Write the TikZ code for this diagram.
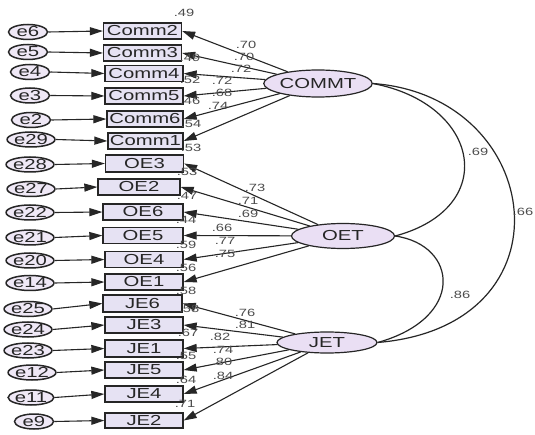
\documentclass[tikz,border=0pt]{standalone}
\usepackage{fontspec}
\newfontfamily\wfont{Liberation Sans}[FakeStretch=1.4]
\usetikzlibrary{arrows.meta,shapes.geometric}
\definecolor{boxfill}{HTML}{E6E2F3}
\definecolor{errfill}{HTML}{EFE8F6}
\definecolor{latfill}{HTML}{EADFF4}
\definecolor{ink}{HTML}{262626}
\begin{document}
\begin{tikzpicture}[x=1pt,y=-1pt,
  obs/.style={draw=ink, fill=boxfill, line width=1.3pt, minimum width=78pt, minimum height=16pt, inner sep=0pt, font=\wfont\fontsize{14.5}{14.5}\selectfont, text=ink},
  err/.style={ellipse, draw=ink, fill=errfill, line width=1.5pt, minimum width=39pt, minimum height=15pt, inner sep=0pt, font=\wfont\fontsize{14.5}{14.5}\selectfont, text=ink},
  lat/.style={ellipse, draw=ink, fill=latfill, line width=1.2pt, inner sep=0pt, font=\wfont\fontsize{14.5}{14.5}\selectfont, text=ink},
  arr/.style={draw=ink, line width=1.1pt, -{Triangle[length=13pt,width=8pt]}},
  cov/.style={draw=ink, line width=1.2pt},
  lab/.style={font=\wfont\fontsize{10.5}{10.5}\selectfont, text=black!70, inner sep=0pt}]
\useasboundingbox (0,0) rectangle (535,435);
\fill[white] (0,0) rectangle (535,435);

% latent variables
\node[lat, minimum width=82pt, minimum height=27pt] (COMMT) at (318,83.5) {COMMT};
\node[lat, minimum width=103pt, minimum height=25pt] (OET) at (343,236) {OET};
\node[lat, minimum width=100pt, minimum height=21pt] (JET) at (327,342.5) {JET};

% observed boxes
\node[obs] (c2) at (142.5,31) {Comm2};
\node[obs] (c3) at (142.5,53) {Comm3};
\node[obs] (c4) at (144,73.5) {Comm4};
\node[obs] (c5) at (144,96) {Comm5};
\node[obs, minimum width=76pt] (c6) at (145,119) {Comm6};
\node[obs, minimum width=75pt] (c1) at (145.5,141) {Comm1};
\node[obs, minimum height=17pt] (o3) at (144.5,163.5) {OE3};
\node[obs, minimum width=82pt] (o2) at (139,187) {OE2};
\node[obs, minimum width=80pt] (o6) at (143,212) {OE6};
\node[obs, minimum width=80pt] (o5) at (143,235.5) {OE5};
\node[obs] (o4) at (144,259.5) {OE4};
\node[obs] (o1) at (144,282) {OE1};
\node[obs, minimum width=79pt, minimum height=17pt] (j6) at (142.5,303.5) {JE6};
\node[obs] (j3) at (144,325) {JE3};
\node[obs, minimum height=17pt] (j1) at (144,348.5) {JE1};
\node[obs] (j5) at (144,370) {JE5};
\node[obs] (j4) at (144,394) {JE4};
\node[obs, minimum height=15pt] (j2) at (144,420.5) {JE2};

% error terms
\node[err] (e6) at (28,32) {e6};
\node[err] (e5) at (28,52) {e5};
\node[err] (e4) at (30,72) {e4};
\node[err] (e3) at (30,95.5) {e3};
\node[err] (e2) at (31,120) {e2};
\node[err] (e29) at (31,139.5) {e29};
\node[err] (e28) at (30,164.5) {e28};
\node[err] (e27) at (31,189) {e27};
\node[err] (e22) at (30,212.5) {e22};
\node[err] (e21) at (30,237.5) {e21};
\node[err] (e20) at (30,260.5) {e20};
\node[err] (e14) at (30,283) {e14};
\node[err] (e25) at (28,309) {e25};
\node[err] (e24) at (28,329.5) {e24};
\node[err] (e23) at (28,350.5) {e23};
\node[err] (e12) at (32,372.5) {e12};
\node[err] (e11) at (31,397.5) {e11};
\node[err] (e9) at (34,421.5) {e9};

% error arrows
\foreach \e/\b in {e6/c2,e5/c3,e4/c4,e3/c5,e2/c6,e29/c1,e28/o3,e27/o2,e22/o6,e21/o5,e20/o4,e14/o1,e25/j6,e24/j3,e23/j1,e12/j5,e11/j4,e9/j2}
  \draw[arr] (\e.east) -- (\b.west);

% loadings
\foreach \b in {c2,c3,c4,c5,c6,c1} \draw[arr] (COMMT) -- (\b.east);
\foreach \b in {o3,o2,o6,o5,o4,o1} \draw[arr] (OET) -- (\b.east);
\foreach \b in {j6,j3,j1,j5,j4,j2} \draw[arr] (JET) -- (\b.east);

% covariances
\draw[cov] (COMMT.east) .. controls (481,104) and (500,208) .. (OET.east);
\draw[cov] (COMMT.east) .. controls (545,96) and (576,326) .. (JET.east);
\draw[cov] (OET.east) .. controls (458,245) and (466,318) .. (JET.east);

% loading labels
\node[lab] (l1) at (246,45) {.70};
\node[lab] (l2) at (244,57) {.70};
\node[lab] (l3) at (241,69) {.72};
\node[lab] (l4) at (222,81) {.72};
\node[lab] (l5) at (222,93) {.68};
\node[lab] (l6) at (218,106) {.74};
\node[lab] (l7) at (255,188) {.73};
\node[lab] (l8) at (248,201) {.71};
\node[lab] (l9) at (248,214) {.69};
\node[lab] (l10) at (222,228) {.66};
\node[lab] (l11) at (225,241) {.77};
\node[lab] (l12) at (225,254) {.75};
\node[lab] (l13) at (245,313) {.76};
\node[lab] (l14) at (245,325) {.81};
\node[lab] (l15) at (220,337) {.82};
\node[lab] (l16) at (223,350) {.74};
\node[lab] (l17) at (222,362) {.80};
\node[lab] (l18) at (223,376) {.84};

% squared multiple correlations
\node[lab] (r1) at (184,13) {.49};
\node[lab] (r2) at (190,58) {.49};
\node[lab] (r3) at (190,80) {.52};
\node[lab] (r4) at (190,101) {.46};
\node[lab] (r5) at (191,124) {.54};
\node[lab] (r6) at (191,148) {.53};
\node[lab] (r7) at (187,172) {.53};
\node[lab] (r8) at (187,196) {.47};
\node[lab] (r9) at (186,220) {.44};
\node[lab] (r10) at (186,245) {.59};
\node[lab] (r11) at (186,268) {.56};
\node[lab] (r12) at (186,291) {.58};
\node[lab] (r13) at (189,309) {.58};
\node[lab] (r14) at (188,333) {.67};
\node[lab] (r15) at (186,356) {.55};
\node[lab] (r16) at (186,380) {.64};
\node[lab] (r17) at (185,404) {.71};

% correlation labels
\node[lab] (k1) at (478,152) {.69};
\node[lab] (k2) at (523,212) {.66};
\node[lab] (k3) at (460,295) {.86};
\end{tikzpicture}
\end{document}
